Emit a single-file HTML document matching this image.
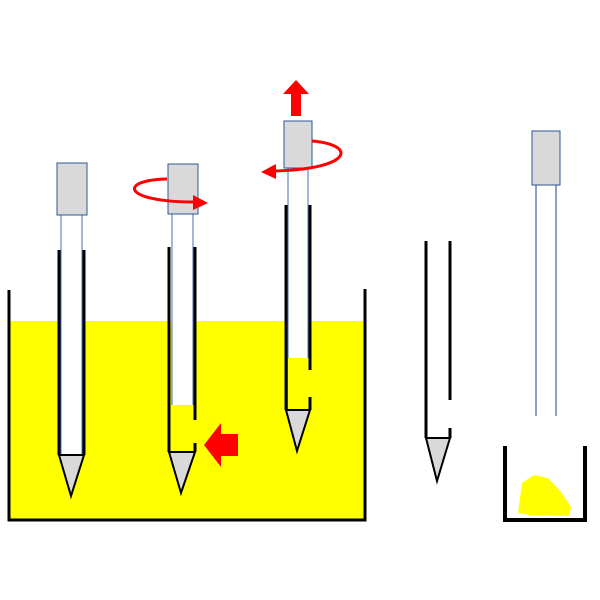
<!DOCTYPE html>
<html><head><style>html,body{margin:0;padding:0;background:#fff}svg{display:block}</style></head>
<body>
<svg width="600" height="600" viewBox="0 0 600 600" xmlns="http://www.w3.org/2000/svg">
<rect x="10" y="321" width="354" height="199" fill="#ffff00"/>
<path d="M9,290 V520 H365 V289" fill="none" stroke="#000" stroke-width="3"/>

<!-- probe 1 -->
<rect x="61" y="215" width="21" height="240" fill="#fff" stroke="#4a6fb0" stroke-width="1"/>
<rect x="57" y="163" width="30" height="52" fill="#d9d9d9" stroke="#2f5597" stroke-width="1"/>
<path d="M59,250 V455 M84,250 V455" stroke="#000" stroke-width="3"/>
<polygon points="59,455 84,455 71,496" fill="#d9d9d9" stroke="#000" stroke-width="2"/>

<!-- probe 2 -->
<rect x="172" y="214" width="21" height="238" fill="#fff" stroke="#4a6fb0" stroke-width="1"/>
<rect x="171" y="405" width="23" height="47" fill="#ffff00"/>
<rect x="168" y="164" width="30" height="50" fill="#d9d9d9" stroke="#2f5597" stroke-width="1"/>
<path d="M169,247 V452 M195,247 V420 M195,443 V452" stroke="#000" stroke-width="3"/>
<polygon points="169,452 195,452 181,493" fill="#d9d9d9" stroke="#000" stroke-width="2"/>
<path d="M167,179 C118,180 122,202 195,202" fill="none" stroke="#f00" stroke-width="3"/>
<polygon points="193,195 208,203 193,210" fill="#f00"/>
<polygon points="204,445 221,423 221,434 238,434 238,456 221,456 221,467" fill="#f00"/>

<!-- probe 3 -->
<rect x="288" y="168" width="20" height="242" fill="#fff" stroke="#4a6fb0" stroke-width="1"/>
<rect x="288" y="358" width="21" height="52" fill="#ffff00"/>
<rect x="284" y="121" width="28" height="47" fill="#d9d9d9" stroke="#2f5597" stroke-width="1"/>
<path d="M286,205 V410 M310,205 V370 M310,397 V410" stroke="#000" stroke-width="3"/>
<polygon points="286,410 310,410 297,451" fill="#d9d9d9" stroke="#000" stroke-width="2"/>
<path d="M312,141 C358,145 352,169 274,171" fill="none" stroke="#f00" stroke-width="3"/>
<polygon points="276,164 261,172 276,179" fill="#f00"/>
<polygon points="296,80 309,94 301,94 301,116 291,116 291,94 283,94" fill="#f00"/>

<!-- probe 4 -->
<path d="M426,241 V438 M450,241 V400 M450,428 V438" stroke="#000" stroke-width="3"/>
<polygon points="426,438 450,438 437,481" fill="#d9d9d9" stroke="#000" stroke-width="2"/>

<!-- probe 5 -->
<path d="M536,185 V416 M556,185 V416" stroke="#4a6fb0" stroke-width="1.3"/>
<rect x="532" y="131" width="28" height="54" fill="#d9d9d9" stroke="#2f5597" stroke-width="1"/>
<path d="M505,446 V520 H585 V446" fill="none" stroke="#000" stroke-width="4"/>
<path d="M522,483 L534,475 L548,478 L561,492 L571,507 L569,516 L530,515 L518,513 Z" fill="#ffff00"/>
</svg>
</body></html>
